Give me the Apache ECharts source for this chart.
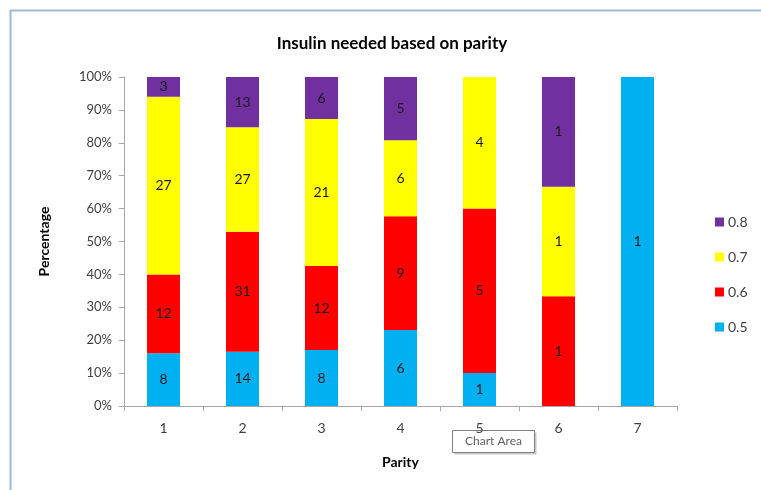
<!DOCTYPE html>
<html>
<head>
<meta charset="utf-8">
<script src="https://cdn.jsdelivr.net/npm/echarts@6/dist/echarts.min.js"></script>
<style>
  html, body { margin: 0; padding: 0; background: #ffffff; }
  #chart { width: 761px; height: 490px; }
</style>
</head>
<body>
<div id="chart"></div>
<script>
// Parity groups on the category axis
const parity = ['1', '2', '3', '4', '5', '6', '7'];

// Patient counts per insulin dose (units/kg) for each parity group
const dose05 = [8, 14, 8, 6, 1, 0, 1];
const dose06 = [12, 31, 12, 9, 5, 1, 0];
const dose07 = [27, 27, 21, 6, 4, 1, 0];
const dose08 = [3, 13, 6, 5, 0, 1, 0];

const seriesNames = ['0.5', '0.6', '0.7', '0.8'];
const seriesCounts = [dose05, dose06, dose07, dose08];
const seriesColors = ['#00b0f0', '#ff0000', '#ffff00', '#7030a0'];

// Column totals for the 100% stacking
const totals = parity.map((_, i) => seriesCounts.reduce((s, arr) => s + arr[i], 0));

const font = 'Lato, "Open Sans", sans-serif';

const series = seriesNames.map((name, k) => ({
  name: name,
  type: 'bar',
  stack: 'share',
  barWidth: 33,
  itemStyle: { color: seriesColors[k] },
  data: seriesCounts[k].map((c, i) => ({ value: c / totals[i] * 100, count: c })),
  label: {
    show: true,
    position: 'inside',
    fontFamily: font,
    fontSize: 14,
    color: '#1a1a1a',
    formatter: p => (p.data.count > 0 ? String(p.data.count) : '')
  }
}));

const chart = echarts.init(document.getElementById('chart'), null, { renderer: 'canvas' });
chart.setOption({
  animation: false,
  backgroundColor: '#ffffff',
  title: {
    text: 'Insulin needed based on parity',
    left: 387,
    top: 30,
    textAlign: 'center',
    textStyle: { fontFamily: font, fontSize: 17, fontWeight: 'bold', color: '#000000' }
  },
  legend: {
    orient: 'vertical',
    left: 710,
    top: 210,
    itemWidth: 9,
    itemHeight: 9,
    itemGap: 21,
    icon: 'rect',
    data: ['0.8', '0.7', '0.6', '0.5'],
    textStyle: { fontFamily: font, fontSize: 14, color: '#404040', padding: [0, 0, 0, -1] }
  },
  grid: { left: 124, right: 84, top: 77, bottom: 84, containLabel: false },
  xAxis: {
    type: 'category',
    data: parity,
    name: 'Parity',
    nameLocation: 'middle',
    nameGap: 49,
    nameTextStyle: { fontFamily: font, fontSize: 14, fontWeight: 'bold', color: '#000000' },
    axisLine: { lineStyle: { color: '#a6a6a6' } },
    axisTick: { show: true, length: 5, lineStyle: { color: '#a6a6a6' } },
    axisLabel: { fontFamily: font, fontSize: 14, color: '#404040', margin: 15 }
  },
  yAxis: {
    type: 'value',
    min: 0,
    max: 100,
    interval: 10,
    name: 'Percentage',
    nameLocation: 'middle',
    nameGap: 73,
    nameTextStyle: { fontFamily: font, fontSize: 14, fontWeight: 'bold', color: '#000000' },
    axisLine: { show: true, lineStyle: { color: '#a6a6a6' } },
    axisTick: { show: true, length: 5, lineStyle: { color: '#a6a6a6' } },
    splitLine: { show: false },
    axisLabel: { fontFamily: font, fontSize: 13, color: '#404040', margin: 12, formatter: '{value}%' }
  },
  series: series,
  graphic: [
    {
      type: 'rect',
      shape: { x: 10.5, y: 10.5, width: 760, height: 490 },
      style: { fill: null, stroke: '#9dbbd9', lineWidth: 2 },
      silent: true
    },
    {
      type: 'group',
      left: 452,
      top: 430,
      children: [
        { type: 'rect', shape: { x: 2, y: 2, width: 82, height: 22 }, style: { fill: '#c8c8c8' } },
        { type: 'rect', shape: { x: 0, y: 0, width: 82, height: 22 }, style: { fill: '#ffffff', stroke: '#808080', lineWidth: 1 } },
        { type: 'text', x: 41, y: 11, style: { text: 'Chart Area', fontFamily: font, fontSize: 12, fill: '#606060', align: 'center', verticalAlign: 'middle' } }
      ]
    }
  ]
});
</script>
</body>
</html>
